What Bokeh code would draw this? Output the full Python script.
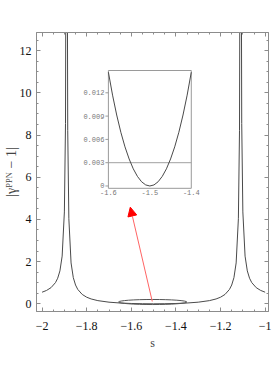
import numpy as np
from bokeh.plotting import figure
from bokeh.models import Range1d, LinearAxis, FixedTicker, Arrow, NormalHead
from bokeh.core.properties import value
from bokeh.embed import file_html
from bokeh.resources import INLINE

# ---------------- data ----------------
S_MAIN = [-2.00, -1.98, -1.96, -1.94, -1.93, -1.92, -1.91, -1.90, -1.895, -1.892,
          -1.888, -1.885, -1.88, -1.87, -1.86, -1.85, -1.84, -1.82, -1.80, -1.78,
          -1.75, -1.70, -1.65, -1.60, -1.55, -1.50,
          -1.45, -1.40, -1.35, -1.30, -1.25, -1.22, -1.20, -1.18, -1.16, -1.15,
          -1.14, -1.13, -1.12, -1.115, -1.112, -1.108, -1.105, -1.10, -1.09, -1.08,
          -1.07, -1.06, -1.04, -1.02, -1.00]
G_MAIN = [0.549, 0.633, 0.765, 1.003, 1.212, 1.561, 2.259, 4.354, 8.547, 21.1,
          20.8, 8.224, 4.032, 1.936, 1.238, 0.890, 0.681, 0.443, 0.312, 0.229,
          0.150, 0.0767, 0.0373, 0.0151, 0.0036, 0.0,
          0.0036, 0.0151, 0.0373, 0.0767, 0.150, 0.229, 0.312, 0.443, 0.681, 0.890,
          1.238, 1.936, 4.032, 8.224, 20.8, 21.1, 8.547, 4.354, 2.259, 1.561,
          1.212, 1.003, 0.765, 0.633, 0.549]

S_INSET = [-1.60, -1.59, -1.58, -1.57, -1.56, -1.55, -1.54, -1.53, -1.52, -1.51, -1.50,
           -1.49, -1.48, -1.47, -1.46, -1.45, -1.44, -1.43, -1.42, -1.41, -1.40]
G_INSET = [0.01465, 0.0117, 0.00914, 0.00692, 0.00504, 0.00348, 0.00221, 0.00124,
           0.000548, 0.000137, 0.0,
           0.000137, 0.000548, 0.00124, 0.00221, 0.00348, 0.00504, 0.00692, 0.00914,
           0.0117, 0.01465]
INSET_BOUND = 0.003

X_TICKS = [-2.0, -1.8, -1.6, -1.4, -1.2, -1.0]
X_TICK_LABELS = ["\u22122", "\u22121.8", "\u22121.6", "\u22121.4", "\u22121.2", "\u22121"]
Y_TICKS = [0, 2, 4, 6, 8, 10, 12]
Y_TICK_LABELS = ["0", "2", "4", "6", "8", "10", "12"]

INSET_X_TICKS = [-1.6, -1.5, -1.4]
INSET_X_LABELS = ["-1.6", "-1.5", "-1.4"]
INSET_Y_TICKS = [0.0, 0.003, 0.006, 0.009, 0.012]
INSET_Y_LABELS = ["0", "0.003", "0.006", "0.009", "0.012"]

# ---------------- layout / style constants ----------------
X_RANGE = (-2.025, -0.985)
Y_RANGE = (-0.365, 12.858)
INSET_XR = (-1.7735, -1.2137)
INSET_YR = (-0.01616, 0.019764)
INSET_BOX = dict(left=-1.6, right=-1.4, bottom=-0.0003, top=0.01487)
ELLIPSE = dict(x=-1.504, y=0.085, w=0.306, h=0.24)
ARROW = dict(x0=-1.506, y0=0.11, x1=-1.6046, y1=4.58)

CURVE = "#4a4a4a"
FRAME = "#8c8c8c"
SERIF = "Liberation Serif"
MONO = "Liberation Mono"

p = figure(width=273, height=378, x_range=Range1d(*X_RANGE), y_range=Range1d(*Y_RANGE),
           output_backend="svg", toolbar_location=None,
           min_border_left=36, min_border_right=5, min_border_top=32, min_border_bottom=67)
p.xgrid.visible = False
p.ygrid.visible = False
p.outline_line_color = FRAME
p.background_fill_color = "white"
p.border_fill_color = "white"

x_minor = [round(v, 2) for v in np.arange(-2.0, -0.999, 0.05)]
y_minor = [round(v, 1) for v in np.arange(0.0, 12.9, 0.5)]
xt = FixedTicker(ticks=X_TICKS, minor_ticks=x_minor)
yt = FixedTicker(ticks=Y_TICKS, minor_ticks=y_minor)


def style_axis(ax, show_labels):
    ax.axis_line_color = FRAME
    ax.major_tick_line_color = FRAME
    ax.minor_tick_line_color = FRAME
    ax.major_tick_in = 4
    ax.major_tick_out = 0
    ax.minor_tick_in = 2
    ax.minor_tick_out = 0
    ax.major_label_text_font = SERIF
    ax.major_label_text_color = "#111111"
    if show_labels:
        ax.major_label_text_font_size = "12px"
    else:
        ax.major_label_text_font_size = "1px"
        ax.major_label_text_color = None
        ax.major_label_standoff = 0


xa = p.xaxis[0]
xa.ticker = xt
xa.major_label_overrides = {t: l for t, l in zip(X_TICKS, X_TICK_LABELS)}
style_axis(xa, True)
xa.major_label_standoff = 10
xa.axis_label = "s"
xa.axis_label_text_font = SERIF
xa.axis_label_text_font_style = "normal"
xa.axis_label_text_font_size = "12px"
xa.axis_label_standoff = 3

ya = p.yaxis[0]
ya.ticker = yt
ya.major_label_overrides = {t: l for t, l in zip(Y_TICKS, Y_TICK_LABELS)}
style_axis(ya, True)
ya.major_label_standoff = 5
ya.axis_label = "|\u03b3\u1d3e\u1d3e\u1d3a \u2212 1|"
ya.axis_label_text_font = SERIF
ya.axis_label_text_font_style = "normal"
ya.axis_label_text_font_size = "14px"
ya.axis_label_standoff = -2

top = LinearAxis(ticker=FixedTicker(ticks=X_TICKS, minor_ticks=x_minor))
style_axis(top, False)
p.add_layout(top, "above")
right = LinearAxis(ticker=FixedTicker(ticks=Y_TICKS, minor_ticks=y_minor))
style_axis(right, False)
p.add_layout(right, "right")

# main curve
p.line(S_MAIN, G_MAIN, line_color=CURVE, line_width=1)

# ellipse marking the zoomed region
p.ellipse(x=[ELLIPSE["x"]], y=[ELLIPSE["y"]], width=ELLIPSE["w"], height=ELLIPSE["h"],
          fill_color=None, line_color="#555555", line_width=1)

# arrow
p.add_layout(Arrow(end=NormalHead(size=9, fill_color="red", line_color="red", line_width=1),
                   x_start=ARROW["x0"], y_start=ARROW["y0"], x_end=ARROW["x1"], y_end=ARROW["y1"],
                   line_color="#ff6464", line_width=1))

# inset drawn on extra ranges
p.extra_x_ranges = {"ix": Range1d(*INSET_XR)}
p.extra_y_ranges = {"iy": Range1d(*INSET_YR)}
kw = dict(x_range_name="ix", y_range_name="iy")

p.quad(left=[INSET_BOX["left"]], right=[INSET_BOX["right"]], bottom=[INSET_BOX["bottom"]],
       top=[INSET_BOX["top"]], fill_color="white", line_color="#9a9a9a", line_width=1, **kw)
p.line([INSET_X_TICKS[0], INSET_X_TICKS[-1]], [INSET_BOUND, INSET_BOUND],
       line_color="#a0a0a0", line_width=1, **kw)
p.line(S_INSET, G_INSET, line_color=CURVE, line_width=1, **kw)

TICK = 0.0072
p.segment(x0=[INSET_BOX["left"]] * len(INSET_Y_TICKS),
          x1=[INSET_BOX["left"] - TICK] * len(INSET_Y_TICKS),
          y0=INSET_Y_TICKS, y1=INSET_Y_TICKS, line_color="#9a9a9a", line_width=1, **kw)
p.text(x=[INSET_BOX["left"]] * len(INSET_Y_TICKS), y=INSET_Y_TICKS, text=INSET_Y_LABELS,
       x_offset=-4, text_align="right", text_baseline="middle",
       text_font=value(MONO), text_font_size="7px", text_color="#777777", **kw)
p.text(x=INSET_X_TICKS, y=[INSET_BOX["bottom"]] * len(INSET_X_TICKS), text=INSET_X_LABELS,
       y_offset=2, text_align="center", text_baseline="top",
       text_font=value(MONO), text_font_size="7px", text_color="#777777", **kw)

open("out.html", "w").write(file_html(p, INLINE))
